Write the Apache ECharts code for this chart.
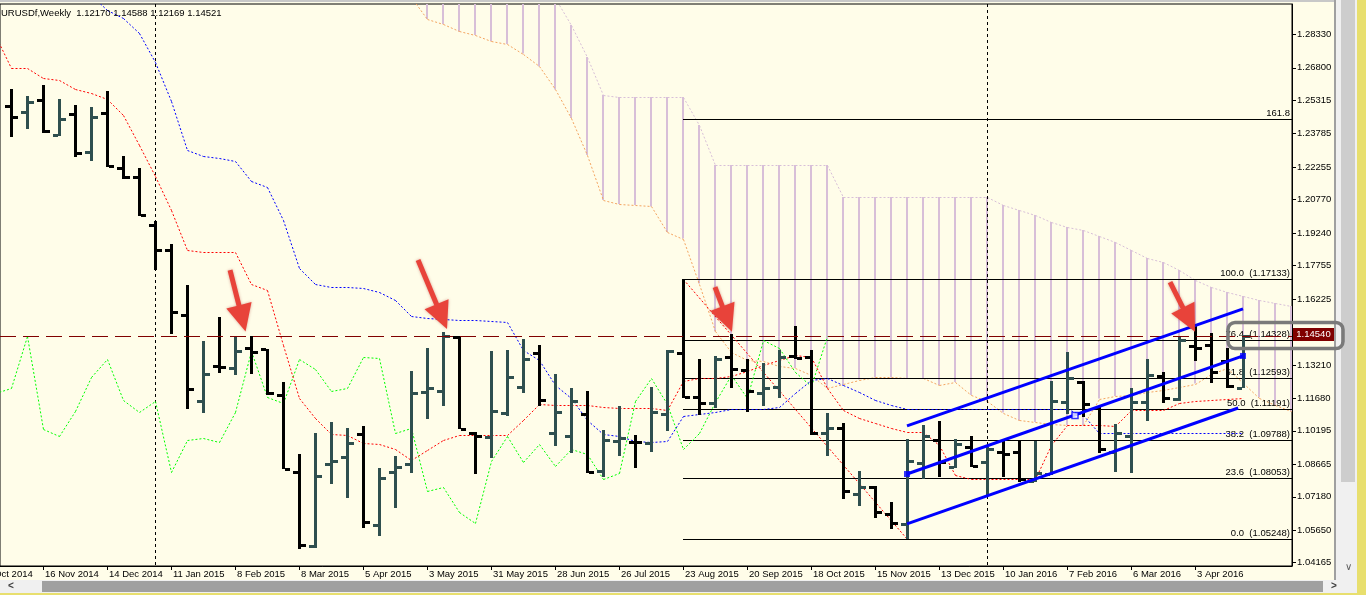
<!DOCTYPE html>
<html><head><meta charset="utf-8">
<script src="https://cdn.jsdelivr.net/npm/echarts@6/dist/echarts.min.js"></script>
<style>html,body{margin:0;padding:0;background:#fffde9;overflow:hidden}#c{width:1366px;height:595px}</style>
</head><body><div id="c"></div>
<script>
// ---- DATA (week index 0 = 16 Nov 2014) ----
const barStart = -2;
const barOpen = [1.2507,1.2479,1.2534,1.2373,1.2467,1.2293,1.2475,1.2223,1.2182,1.1960,
 1.1848,1.1551,1.1157,1.1316,1.1306,1.1400,1.1395,1.1183,1.0832,1.0494,
 1.0869,1.0898,1.1004,1.0589,1.0830,1.0866,1.1198,1.1204,1.1448,1.1011,
 1.0990,1.1101,1.1218,1.1376,1.1011,1.0994,1.1097,1.0837,1.0975,1.0970,
 1.0965,1.1098,1.1377,1.1176,1.1148,1.1357,1.1299,1.1194,1.1222,1.1363,
 1.1356,1.1011,1.1034,1.0731,1.0761,1.0639,1.0595,1.0874,1.0979,1.0855,
 1.0946,1.0877,1.0922,1.0922,1.0792,1.0822,1.1150,1.1242,1.1124,1.0924,
 1.0996,1.1153,1.1272,1.1165,1.1407,1.1412,1.1340,1.12170];
const barHigh = [1.2582,1.2551,1.2601,1.2537,1.2510,1.2501,1.2572,1.2277,1.2223,1.1981,
 1.1873,1.1686,1.1429,1.1540,1.1449,1.1455,1.1396,1.1244,1.0913,1.1011,
 1.1059,1.1031,1.1042,1.0851,1.0904,1.1294,1.1398,1.1471,1.1454,1.1012,
 1.1385,1.1391,1.1440,1.1411,1.1278,1.1217,1.1200,1.1022,1.1132,1.0999,
 1.1218,1.1388,1.1713,1.1347,1.1364,1.1463,1.1346,1.1332,1.1389,1.1501,
 1.1389,1.1100,1.1054,1.0836,1.0766,1.0693,1.0982,1.1046,1.1063,1.0984,
 1.0994,1.0947,1.0982,1.0975,1.0972,1.1246,1.1379,1.1246,1.1130,1.1050,
 1.1215,1.1347,1.1287,1.1448,1.1497,1.1466,1.1398,1.14588];
const barLow = [1.2362,1.2399,1.2380,1.2367,1.2273,1.2252,1.2228,1.2171,1.2003,1.1755,
 1.1463,1.1118,1.1100,1.1286,1.1275,1.1281,1.1183,1.0843,1.0479,1.0485,
 1.0778,1.0714,1.0574,1.0538,1.0665,1.0825,1.1072,1.1134,1.1027,1.0821,
 1.0895,1.1088,1.1191,1.1131,1.0952,1.0919,1.0829,1.0810,1.0903,1.0848,
 1.0924,1.1020,1.1170,1.1091,1.1124,1.1215,1.1107,1.1134,1.1171,1.1348,
 1.1001,1.0903,1.0709,1.0678,1.0622,1.0569,1.0525,1.0798,1.0808,1.0848,
 1.0855,1.0722,1.0808,1.0784,1.0787,1.0816,1.1097,1.1084,1.0917,1.0832,
 1.0828,1.1063,1.1147,1.1155,1.1339,1.1237,1.1215,1.12169];
const barClose = [1.2456,1.2522,1.2392,1.2447,1.2292,1.2456,1.2231,1.2179,1.2007,1.1847,
 1.1565,1.1212,1.1281,1.1312,1.1385,1.1382,1.1191,1.0845,1.0498,1.0813,
 1.0883,1.0965,1.0602,1.0804,1.0856,1.1194,1.1214,1.1454,1.1028,1.0994,
 1.1112,1.1268,1.1347,1.1162,1.1106,1.1156,1.0831,1.0976,1.0988,1.0967,
 1.1107,1.1386,1.1176,1.1148,1.1348,1.1304,1.1202,1.1214,1.1359,1.1351,
 1.1011,1.1034,1.0746,1.0764,1.0650,1.0597,1.0882,1.0994,1.0876,1.0958,
 1.0857,1.0938,1.0913,1.0801,1.0825,1.1156,1.1263,1.1142,1.0938,1.1011,
 1.1150,1.1275,1.1171,1.1435,1.1398,1.1289,1.1224,1.14521];

const lineStart = -3;
const tenkan = [1.2830,1.2679,1.2679,1.2633,1.2624,1.2583,1.2565,1.2537,1.2464,1.2327,
 1.2185,1.2030,1.1847,1.1838,1.1838,1.1838,1.1691,1.1664,1.1412,1.1170,
 1.1078,1.1005,1.1001,1.0964,1.0959,1.0937,1.0886,1.0932,1.0978,1.1001,
 1.1001,1.1001,1.1001,1.1069,1.1142,1.1138,1.1138,1.1138,1.1129,1.1124,
 1.1124,1.1124,1.1115,1.1247,1.1261,1.1261,1.1270,1.1293,1.1321,1.1344,
 1.1366,1.1357,1.1215,1.1115,1.1078,1.1055,1.1033,1.1014,1.1014,1.0955,
 1.0818,1.0799,1.0799,1.0799,1.0799,1.0799,1.0955,1.1046,1.1046,1.1046,
 1.1042,1.1115,1.1115,1.1115,1.1147,1.1156,1.1161,1.1165,1.1170];
const kijun = [1.3173,1.3127,1.3081,1.3059,1.3036,1.3022,1.3013,1.2944,1.2908,1.2839,
 1.2706,1.2528,1.2304,1.2276,1.2267,1.2254,1.2162,1.2135,1.1984,1.1764,
 1.1691,1.1677,1.1677,1.1673,1.1654,1.1618,1.1545,1.1536,1.1531,1.1526,
 1.1526,1.1522,1.1517,1.1389,1.1344,1.1229,1.1170,1.1069,1.1005,1.0996,
 1.0973,1.0969,1.0973,1.1088,1.1097,1.1106,1.1119,1.1119,1.1119,1.1129,
 1.1193,1.1252,1.1261,1.1229,1.1197,1.1161,1.1138,1.1119,1.1119,1.1119,
 1.1119,1.1119,1.1119,1.1119,1.1119,1.1119,1.1119,1.1119,1.1092,1.1010,
 1.1010,1.1010,1.1010,1.1010,1.1010,1.1010,1.1010,1.1010,1.1010];
const chikou = [1.1194,1.1214,1.1454,1.1028,1.0994,1.1112,1.1268,1.1347,1.1162,1.1106,
 1.1156,1.0831,1.0976,1.0988,1.0967,1.1107,1.1386,1.1176,1.1148,1.1348,
 1.1304,1.1202,1.1214,1.1359,1.1351,1.1011,1.1034,1.0746,1.0764,1.0650,
 1.0597,1.0882,1.0994,1.0876,1.0958,1.0857,1.0938,1.0913,1.0801,1.0825,
 1.1156,1.1263,1.1142,1.0938,1.1011,1.1150,1.1275,1.1171,1.1435,1.1398,
 1.1289,1.1224,1.1452];

const spanStart = 22;
const spanA = [1.3036,1.3004,1.2903,1.2880,1.2846,1.2830,1.2802,1.2789,1.2745,1.2686,
 1.2581,1.2450,1.2281,1.2075,1.2057,1.2052,1.2046,1.1929,1.1899,1.1693,
 1.1474,1.1382,1.1344,1.1339,1.1318,1.1307,1.1277,1.1215,1.1234,1.1254,
 1.1264,1.1264,1.1261,1.1259,1.1229,1.1243,1.1184,1.1154,1.1103,1.1067,
 1.1060,1.1049,1.1046,1.1044,1.1167,1.1179,1.1184,1.1195,1.1206,1.1220,
 1.1236,1.1280,1.1305,1.1238,1.1172,1.1138,1.1108,1.1085];
const spanB = [1.3081,1.3081,1.3081,1.3081,1.3081,1.3081,1.3081,1.3081,1.3081,1.3081,
 1.2999,1.2876,1.2729,1.2555,1.2546,1.2546,1.2546,1.2546,1.2546,1.2418,
 1.2235,1.2235,1.2235,1.2235,1.2235,1.2235,1.2235,1.2235,1.2089,1.2089,
 1.2089,1.2089,1.2089,1.2089,1.2089,1.2089,1.2089,1.2089,1.2052,1.2030,
 1.2007,1.1975,1.1952,1.1938,1.1911,1.1883,1.1847,1.1810,1.1792,1.1755,
 1.1709,1.1677,1.1654,1.1636,1.1618,1.1604,1.1590,1.1581];

const fibStartWeek = 40;
const fibPrices = [1.05248,1.08053,1.09788,1.11191,1.12593,1.14328,1.17133,1.24478];
const fibTexts = ['0.0  (1.05248)','23.6  (1.08053)','38.2  (1.09788)','50.0  (1.11191)','61.8  (1.12593)','76.4  (1.14328)','100.0  (1.17133)','161.8'];
const fibDiagonal = [[40,1.17133],[54,1.05248]];
const channelLines = [[54,1.1042,75,1.1577],[54,1.0822,75,1.1362],[54,1.0594,74.7,1.1124]];
const channelAnchors = [[54,1.0822],[64.5,1.1090],[75,1.1362]];
const arrows = [[11.69,1.1755,12.66,1.1474],[23.44,1.1801,25.25,1.1485],[42.0,1.1677,43.06,1.1473],[70.44,1.1700,72.0,1.1473]];
const hLinePrice = 1.1454;
const bidText = '1.14540';
const separatorWeeks = [7,59];

const dateTicks = [0,4,8,12,16,20,24,28,32,36,40,44,48,52,56,60,64,68,72];
const dateLabels = ['16 Nov 2014','14 Dec 2014','11 Jan 2015','8 Feb 2015','8 Mar 2015','5 Apr 2015','3 May 2015','31 May 2015','28 Jun 2015','26 Jul 2015','23 Aug 2015','20 Sep 2015','18 Oct 2015','15 Nov 2015','13 Dec 2015','10 Jan 2016','7 Feb 2016','6 Mar 2016','3 Apr 2016'];
const priceTicks = [1.04165,1.05650,1.07180,1.08665,1.10195,1.11680,1.13210,1.16225,1.17755,1.19240,1.20770,1.22255,1.23785,1.25315,1.26800,1.28330];
const headerText = 'URUSDf,Weekly  1.12170 1.14588 1.12169 1.14521';

// ---- CHART ----
const X0 = -2.6875, X1 = 78.0625, Y0 = 1.04014, Y1 = 1.29716;
const FONT = '"Liberation Sans", Arial, sans-serif';
const chart = echarts.init(document.getElementById('c'));
const segments = (start, arr) => arr.slice(0, -1).map((v, k) => [start + k, v, start + k + 1, arr[k + 1]]);
const snap = v => Math.round(v) + 0.5;

const bars = barOpen.map((o, k) => [barStart + k, o, barHigh[k], barLow[k], barClose[k]]);

function renderBar(params, api) {
  const x = api.value(0), o = api.value(1), h = api.value(2), l = api.value(3), c = api.value(4);
  const pH = api.coord([x, h]), pL = api.coord([x, l]), pO = api.coord([x, o]), pC = api.coord([x, c]);
  const col = c >= o ? '#2f4f4f' : '#000000';
  const cx = Math.round(pH[0]);
  return {type: 'group', children: [
    {type: 'rect', shape: {x: cx - 1, y: Math.round(pH[1]), width: 3, height: Math.max(2, Math.round(pL[1]) - Math.round(pH[1]))}, style: {fill: col}},
    {type: 'rect', shape: {x: cx - 6, y: Math.round(pO[1]) - 1, width: 5, height: 3}, style: {fill: col}},
    {type: 'rect', shape: {x: cx + 2, y: Math.round(pC[1]) - 1, width: 5, height: 3}, style: {fill: col}}
  ]};
}
function renderCloud(params, api) {
  const a = api.coord([api.value(0), api.value(1)]), b = api.coord([api.value(0), api.value(2)]);
  const x = Math.round(a[0]);
  return {type: 'line', shape: {x1: x, y1: a[1], x2: x, y2: b[1]},
    style: {stroke: api.value(2) >= api.value(1) ? '#d8bfd8' : '#f4a460', lineWidth: 2}};
}
function dottedRenderer(color, dash) {
  return function (params, api) {
    const a = api.coord([api.value(0), api.value(1)]), b = api.coord([api.value(2), api.value(3)]);
    return {type: 'line', shape: {x1: snap(a[0]), y1: snap(a[1]), x2: snap(b[0]), y2: snap(b[1])},
      style: {stroke: color, lineWidth: 1, lineDash: dash}};
  };
}
function renderSep(params, api) {
  const cs = params.coordSys;
  const x = snap(api.coord([api.value(0), Y0])[0]);
  return {type: 'line', shape: {x1: x, y1: cs.y, x2: x, y2: cs.y + cs.height},
    style: {stroke: '#000', lineWidth: 1, lineDash: [3, 3]}};
}
function renderHLine(params, api) {
  const cs = params.coordSys;
  const y = snap(api.coord([X0, api.value(0)])[1]);
  return {type: 'line', shape: {x1: cs.x, y1: y, x2: cs.x + cs.width, y2: y},
    style: {stroke: '#800000', lineWidth: 1, lineDash: [16, 7]}};
}
function renderFib(params, api) {
  const cs = params.coordSys;
  const p = api.coord([api.value(0), api.value(1)]);
  const y = snap(p[1]);
  const right = cs.x + cs.width;
  return {type: 'group', children: [
    {type: 'line', shape: {x1: Math.round(p[0]), y1: y, x2: right, y2: y}, style: {stroke: '#000', lineWidth: 1}},
    {type: 'text', x: right - 2, y: y - 1, style: {text: fibTexts[api.value(2)], textAlign: 'right', textVerticalAlign: 'bottom', fill: '#000', font: '9.5px ' + FONT}}
  ]};
}
function renderChannel(params, api) {
  const a = api.coord([api.value(0), api.value(1)]), b = api.coord([api.value(2), api.value(3)]);
  return {type: 'line', shape: {x1: a[0], y1: a[1], x2: b[0], y2: b[1]}, style: {stroke: '#0000ff', lineWidth: 3}};
}
function renderArrow(params, api) {
  const t = api.coord([api.value(0), api.value(1)]), p = api.coord([api.value(2), api.value(3)]);
  const dx = p[0] - t[0], dy = p[1] - t[1], len = Math.hypot(dx, dy);
  const ux = dx / len, uy = dy / len, nx = -uy, ny = ux;
  const Lh = 27, Wh = 13, ws = 2.5;
  const bx = p[0] - ux * Lh, by = p[1] - uy * Lh;
  const pts = [[t[0] + nx * ws, t[1] + ny * ws], [bx + nx * ws, by + ny * ws], [bx + nx * Wh, by + ny * Wh], [p[0], p[1]],
    [bx - nx * Wh, by - ny * Wh], [bx - nx * ws, by - ny * ws], [t[0] - nx * ws, t[1] - ny * ws]];
  return {type: 'polygon', shape: {points: pts}, style: {fill: '#e8433a', shadowBlur: 3, shadowColor: 'rgba(150,0,0,0.35)'}};
}
const dotSeries = (start, arr, color, z) => ({type: 'custom', clip: true, z: z, silent: true,
  renderItem: dottedRenderer(color, [2, 2]), data: segments(start, arr)});

const option = {
  animation: false,
  backgroundColor: '#fffde9',
  grid: {left: 0, top: 4, width: 1292, height: 562, show: true, borderColor: '#000', borderWidth: 1, backgroundColor: 'transparent'},
  xAxis: {type: 'value', min: X0, max: X1,
    axisLine: {show: true, onZero: false, lineStyle: {color: '#000'}},
    axisTick: {show: true, customValues: dateTicks, length: 4, lineStyle: {color: '#000'}},
    axisLabel: {customValues: dateTicks, formatter: v => dateLabels[dateTicks.indexOf(Math.round(v))] || '',
      align: 'left', margin: 3, padding: [0, 0, 0, 2], color: '#000', fontSize: 9.5, fontFamily: FONT},
    splitLine: {show: false}},
  yAxis: {type: 'value', position: 'right', min: Y0, max: Y1, scale: true,
    axisLine: {show: true, onZero: false, lineStyle: {color: '#000'}},
    axisTick: {show: true, customValues: priceTicks, length: 4, lineStyle: {color: '#000'}},
    axisLabel: {customValues: priceTicks, formatter: v => v.toFixed(5), margin: 5, color: '#000', fontSize: 9.5, fontFamily: FONT},
    splitLine: {show: false}},
  series: [
    {type: 'custom', clip: true, z: 1, silent: true, renderItem: renderCloud, data: spanA.map((v, k) => [spanStart + k, v, spanB[k]])},
    dotSeries(spanStart, spanA, '#f4a460', 2),
    dotSeries(spanStart, spanB, '#d8bfd8', 2),
    {type: 'custom', clip: true, z: 2, silent: true, renderItem: renderSep, data: separatorWeeks.map(w => [w])},
    {type: 'custom', clip: true, z: 3, silent: true, renderItem: renderFib, data: fibPrices.map((p, k) => [fibStartWeek, p, k])},
    dotSeries(lineStart, chikou, '#00ff00', 4),
    dotSeries(lineStart, kijun, '#0000ff', 4),
    dotSeries(lineStart, tenkan, '#ff0000', 4),
    {type: 'custom', clip: true, z: 4, silent: true, renderItem: dottedRenderer('#ff0000', [2, 2]),
      data: [[fibDiagonal[0][0], fibDiagonal[0][1], fibDiagonal[1][0], fibDiagonal[1][1]]]},
    {type: 'custom', clip: true, z: 5, silent: true, renderItem: renderBar, data: bars},
    {type: 'custom', clip: true, z: 6, silent: true, renderItem: renderHLine, data: [[hLinePrice]]},
    {type: 'custom', clip: true, z: 7, silent: true, renderItem: renderChannel, data: channelLines},
    {type: 'scatter', z: 8, silent: true, symbol: 'rect', symbolSize: 6,
      data: channelAnchors.map((p, k) => ({value: p, itemStyle: k === 1 ? {color: '#ffffff', borderColor: '#0000ff', borderWidth: 1.5} : {color: '#0000ff'}}))},
    {type: 'custom', clip: true, z: 9, silent: true, renderItem: renderArrow, data: arrows}
  ]
};
chart.setOption(option);

const by = chart.convertToPixel({yAxisIndex: 0}, hLinePrice);
const xTickPx = chart.convertToPixel({xAxisIndex: 0}, -4);
chart.setOption({graphic: [
  {type: 'rect', shape: {x: 0, y: 0, width: 1366, height: 2}, style: {fill: '#c8c8c8'}, z: 100},
  {type: 'text', x: 1, y: 13, style: {text: headerText, fill: '#000', font: '9.5px ' + FONT, textVerticalAlign: 'middle'}, z: 100},
  {type: 'text', x: xTickPx + 2, y: 574, style: {text: '19 Oct 2014', fill: '#000', font: '9.5px ' + FONT, textVerticalAlign: 'middle'}, z: 100},
  {type: 'rect', shape: {x: 1293, y: Math.round(by) - 8, width: 41, height: 13}, style: {fill: '#800000'}, z: 100},
  {type: 'text', x: 1313.5, y: Math.round(by) - 1.5, style: {text: bidText, fill: '#fff', font: '9.5px ' + FONT, textAlign: 'center', textVerticalAlign: 'middle'}, z: 101},
  {type: 'rect', shape: {x: 1228, y: Math.round(by) - 13.5, width: 115, height: 26, r: 7}, style: {fill: 'none', stroke: '#7a7a7a', lineWidth: 3.5}, z: 102},
  {type: 'rect', shape: {x: 1334, y: 0, width: 2, height: 580}, style: {fill: '#a0a0a0'}, z: 100},
  {type: 'rect', shape: {x: 1336, y: 0, width: 21, height: 580}, style: {fill: '#f0f0f0'}, z: 100},
  {type: 'rect', shape: {x: 1341, y: 0, width: 14, height: 482}, style: {fill: '#cdcdcd'}, z: 101},
  {type: 'text', x: 1348, y: 567, style: {text: '\u2228', fill: '#606060', font: '10px ' + FONT, textAlign: 'center', textVerticalAlign: 'middle'}, z: 101},
  {type: 'rect', shape: {x: 0, y: 580, width: 1357, height: 13}, style: {fill: '#f0f0f0'}, z: 100},
  {type: 'rect', shape: {x: 42, y: 581, width: 1281, height: 11}, style: {fill: '#a0a0a0'}, z: 101},
  {type: 'text', x: 8, y: 586.5, style: {text: '<', fill: '#404040', font: 'bold 10px ' + FONT, textVerticalAlign: 'middle'}, z: 101},
  {type: 'text', x: 1331, y: 586.5, style: {text: '>', fill: '#404040', font: 'bold 10px ' + FONT, textVerticalAlign: 'middle'}, z: 101},
  {type: 'rect', shape: {x: 1357, y: 0, width: 9, height: 595}, style: {fill: '#e8df6e'}, z: 100},
  {type: 'rect', shape: {x: 0, y: 593, width: 1366, height: 2}, style: {fill: '#e8df6e'}, z: 100}
]});
</script></body></html>
